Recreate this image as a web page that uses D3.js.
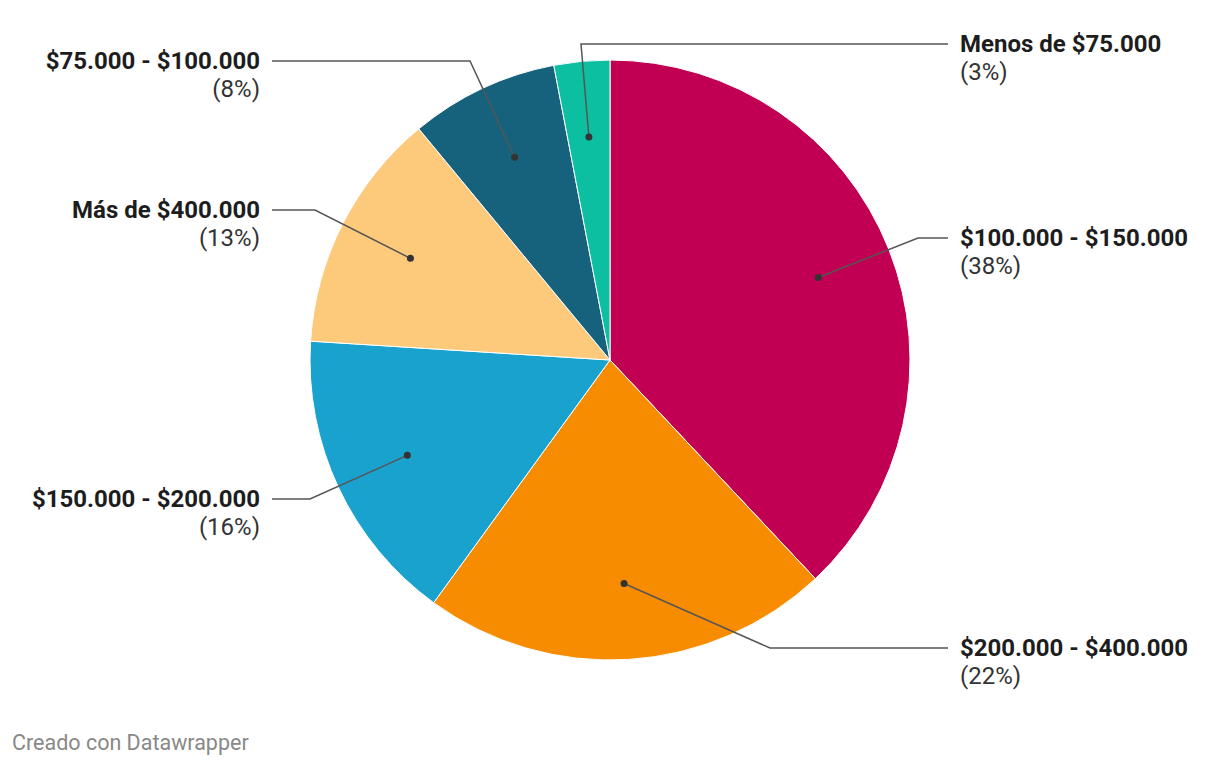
<!DOCTYPE html>
<html>
<head>
<meta charset="utf-8">
<script src="https://cdn.jsdelivr.net/npm/d3@7"></script>
<style>
  body { margin: 0; background: #fff; font-family: Roboto, sans-serif; }
  svg { display: block; }
</style>
</head>
<body>
<svg id="chart"></svg>
<script>
var categories = ['$100.000 - $150.000', '$200.000 - $400.000', '$150.000 - $200.000',
                  'Más de $400.000', '$75.000 - $100.000', 'Menos de $75.000'];
var shares = [38, 22, 16, 13, 8, 3];
var colors = ['#c10053', '#f78c00', '#1aa2cf', '#fdc97a', '#16627c', '#0bbfa0'];
// elbow of each leader line (relative to pie centre), and which side the label sits on
var elbows = [[308, -122], [160, 288], [-300, 139], [-295, -150], [-140, -299], [-29, -316]];
var sides = ['r', 'r', 'l', 'l', 'l', 'r'];

var W = 1220, H = 766;
var cx = 610, cy = 360, R = 300;

var svg = d3.select('#chart').attr('width', W).attr('height', H);

var data = categories.map(function(c, i) {
  return { cat: c, v: shares[i], color: colors[i], elbow: elbows[i], side: sides[i] };
});

var pie = d3.pie().sort(null).value(function(d) { return d.v; });
var arc = d3.arc().innerRadius(0).outerRadius(R);
var dotArc = d3.arc().innerRadius(224).outerRadius(224);

var g = svg.append('g').attr('transform', 'translate(' + cx + ',' + cy + ')');
var arcs = pie(data);

g.selectAll('path.slice')
  .data(arcs)
  .enter()
  .append('path')
  .attr('class', 'slice')
  .attr('d', arc)
  .attr('fill', function(d) { return d.data.color; })
  .attr('stroke', '#fff')
  .attr('stroke-width', 1);

// leader lines
g.selectAll('polyline')
  .data(arcs)
  .enter()
  .append('polyline')
  .attr('fill', 'none')
  .attr('stroke', '#555')
  .attr('stroke-width', 1.5)
  .attr('points', function(d) {
    var p = dotArc.centroid(d);
    var e = d.data.elbow;
    var endX = d.data.side === 'r' ? 338 : -338;
    return [p, e, [endX, e[1]]].map(function(q) { return q.join(','); }).join(' ');
  });

g.selectAll('circle.dot')
  .data(arcs)
  .enter()
  .append('circle')
  .attr('class', 'dot')
  .attr('r', 3.5)
  .attr('fill', '#333')
  .attr('cx', function(d) { return dotArc.centroid(d)[0]; })
  .attr('cy', function(d) { return dotArc.centroid(d)[1]; });

var labels = g.selectAll('text.lbl')
  .data(arcs)
  .enter()
  .append('text')
  .attr('class', 'lbl')
  .attr('text-anchor', function(d) { return d.data.side === 'r' ? 'start' : 'end'; })
  .attr('x', function(d) { return d.data.side === 'r' ? 350 : -350; })
  .attr('y', function(d) { return d.data.elbow[1] + 8; })
  .style('font-size', '24px')
  .attr('fill', '#1d1d1d');

labels.append('tspan')
  .style('font-weight', 'bold')
  .text(function(d) { return d.data.cat; });

labels.append('tspan')
  .attr('x', function(d) { return d.data.side === 'r' ? 350 : -350; })
  .attr('dy', 28)
  .attr('fill', '#333')
  .text(function(d) { return '(' + d.data.v + '%)'; });

svg.append('text')
  .attr('x', 12)
  .attr('y', 750)
  .attr('fill', '#888')
  .style('font-size', '21.5px')
  .text('Creado con Datawrapper');
</script>
</body>
</html>
